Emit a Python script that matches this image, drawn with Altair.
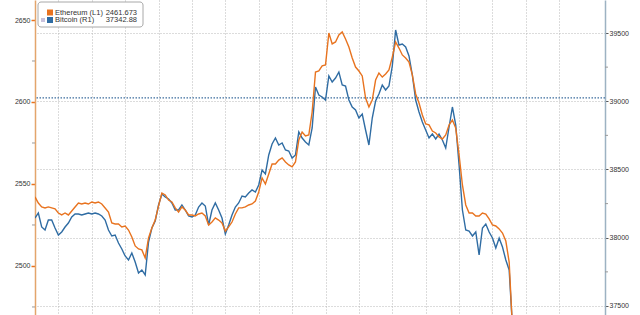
import altair as alt
import pandas as pd

# Ethereum (left axis) and Bitcoin (right axis), 6-minute samples
eth = [2542.1, 2538.4, 2536.0, 2535.4, 2536.0, 2535.4, 2534.8, 2532.3, 2531.1, 2532.3,
       2531.1, 2533.5, 2536.0, 2538.4, 2537.8, 2538.4, 2537.8, 2539.0, 2538.4, 2539.0,
       2537.8, 2535.4, 2532.9, 2526.2, 2525.6, 2525.6, 2523.8, 2524.4, 2521.9, 2517.7,
       2512.2, 2510.4, 2509.8, 2504.9, 2517.1, 2523.2, 2528.0, 2536.6, 2544.5, 2543.3,
       2540.2, 2539.0, 2535.4, 2532.9, 2536.0, 2534.1, 2531.1, 2531.1, 2530.5, 2531.7,
       2532.3, 2530.5, 2525.0, 2526.8, 2529.3, 2528.0, 2526.2, 2521.3, 2523.8, 2526.8,
       2531.7, 2535.4, 2535.4, 2536.0, 2537.2, 2537.8, 2539.6, 2545.1, 2553.7, 2550.0,
       2556.1, 2562.2, 2562.2, 2564.6, 2565.9, 2563.4, 2561.6, 2560.4, 2563.4, 2576.8,
       2581.7, 2579.3, 2579.9, 2593.9, 2618.3, 2618.9, 2622.0, 2622.6, 2642.1, 2635.4,
       2636.6, 2640.9, 2642.7, 2638.4, 2633.5, 2626.8, 2621.3, 2618.9, 2615.9, 2602.4,
       2597.0, 2601.2, 2613.4, 2617.7, 2615.2, 2617.1, 2619.5, 2627.4, 2636.6, 2632.9,
       2628.7, 2626.8, 2624.4, 2616.5, 2604.9, 2599.4, 2592.1, 2586.6, 2586.0, 2582.3,
       2581.1, 2578.7, 2577.4, 2579.9, 2586.0, 2589.0, 2584.1, 2567.7, 2549.4, 2537.2,
       2532.3, 2532.3, 2530.5, 2530.5, 2532.3, 2531.7, 2528.7, 2525.0, 2524.4, 2522.6,
       2520.1, 2515.2, 2502.4, 2461.673]

btc = [38144.7, 38181.4, 38078.8, 38056.8, 38130.1, 38130.1, 38071.5, 38020.2, 38042.2, 38078.8,
       38108.1, 38152.1, 38174.0, 38174.0, 38166.7, 38174.0, 38181.4, 38174.0, 38181.4, 38174.0,
       38159.4, 38130.1, 38056.8, 38012.9, 38020.2, 37961.6, 37917.6, 37866.3, 37837.0, 37888.3,
       37822.4, 37741.8, 37763.8, 37727.1, 37968.9, 38071.5, 38122.8, 38240.0, 38320.6, 38298.6,
       38283.9, 38254.6, 38203.3, 38203.3, 38240.0, 38203.3, 38159.4, 38152.1, 38166.7, 38225.3,
       38254.6, 38232.6, 38093.4, 38203.3, 38254.6, 38203.3, 38144.7, 38027.5, 38093.4, 38166.7,
       38225.3, 38254.6, 38305.9, 38298.6, 38327.9, 38349.9, 38335.2, 38386.5, 38496.4, 38467.1,
       38606.3, 38686.9, 38730.8, 38679.5, 38694.2, 38642.9, 38635.6, 38584.3, 38606.3, 38774.8,
       38730.8, 38701.5, 38679.5, 38804.1, 39104.4, 39045.8, 39031.2, 39009.2, 39185.0, 39141.1,
       39170.4, 39214.3, 39119.1, 39111.8, 39009.2, 38957.9, 38935.9, 38877.3, 38906.6, 38789.4,
       38679.5, 38877.3, 39001.9, 39053.2, 39119.1, 39082.5, 39111.8, 39258.3, 39522.0, 39412.1,
       39419.5, 39397.5, 39331.5, 39192.3, 39009.2, 38921.3, 38848.0, 38789.4, 38730.8, 38760.1,
       38723.5, 38760.1, 38716.2, 38657.6, 38811.4, 38957.9, 38826.0, 38533.0, 38203.3, 38056.8,
       38049.5, 38012.9, 38042.2, 37873.7, 38071.5, 38100.8, 38042.2, 37998.2, 37925.0, 37998.2,
       37932.3, 37837.0, 37763.8, 37342.88]

hour_start = -0.7
hour_step = 0.1
hours = [round(hour_start + hour_step * i, 2) for i in range(len(eth))]

left_ticks = [2500, 2550, 2600, 2650]
left_minor = [2475, 2525, 2575, 2625]
right_ticks = [37500, 38000, 38500, 39000, 39500]
right_minor = [37750, 38250, 38750, 39250]
vgrid = list(range(0, 16))
ref_level = [39025]
left_domain = [2470.1, 2662.2]
right_domain = [37434.0, 39741.8]
x_domain = [-0.7, 16.37]

ORANGE = "#E8731F"
BLUE = "#2F6CA3"
GRID = "#B8B8B8"
FONT = "Liberation Sans"

df = pd.DataFrame({"hour": hours, "eth": eth, "btc": btc})

x_enc = alt.X(
    "hour:Q",
    scale=alt.Scale(domain=x_domain, nice=False, zero=False),
    axis=alt.Axis(values=vgrid, grid=True, gridDash=[1, 2], gridColor=GRID,
                  labels=False, ticks=False, domain=False, title=None),
)

y_right = alt.Y(
    "btc:Q",
    scale=alt.Scale(domain=right_domain, nice=False, zero=False),
    axis=alt.Axis(orient="right", values=right_ticks, grid=True, gridDash=[1, 2],
                  gridColor=GRID, domainColor="#9DB2C2", domainWidth=1.5,
                  tickColor="#555555", tickSize=3, labelFontSize=7, labelFont=FONT,
                  labelColor="#333333", labelPadding=1, title=None, format="d"),
)

y_left = alt.Y(
    "eth:Q",
    scale=alt.Scale(domain=left_domain, nice=False, zero=False),
    axis=alt.Axis(orient="left", values=left_ticks, grid=False,
                  domainColor="#E3A56B", domainWidth=1.5,
                  tickColor=ORANGE, tickSize=4, tickWidth=1.5, labelFontSize=7,
                  labelFont=FONT, labelColor="#333333", labelPadding=1,
                  title=None, format="d"),
)

blue_line = alt.Chart(df).mark_line(color=BLUE, strokeWidth=1.4, clip=True).encode(
    x=x_enc, y=y_right)
ref_rule = alt.Chart(pd.DataFrame({"btc": ref_level})).mark_rule(
    color="#3D6E9E", strokeDash=[1.5, 1.5], strokeWidth=1.2).encode(y=y_right)
right_minor_ticks = alt.Chart(pd.DataFrame({"btc": right_minor})).mark_rule(
    color="#9A9A9A").encode(x=alt.value(570), x2=alt.value(573), y=y_right)
right_group = alt.layer(ref_rule, blue_line, right_minor_ticks)

orange_line = alt.Chart(df).mark_line(color=ORANGE, strokeWidth=1.4, clip=True).encode(
    x=x_enc, y=y_left)
left_minor_ticks = alt.Chart(pd.DataFrame({"eth": left_minor})).mark_rule(
    color="#9A9A9A").encode(x=alt.value(-3), x2=alt.value(0), y=y_left)
left_group = alt.layer(orange_line, left_minor_ticks)

# Legend box
one = pd.DataFrame({"a": [0]})
box = alt.Chart(one).mark_rect(fill="white", stroke="#A8A8A8", strokeWidth=1,
                                cornerRadius=3).encode(
    x=alt.value(3), x2=alt.value(108), y=alt.value(2), y2=alt.value(27))
sq_eth = alt.Chart(one).mark_rect(fill=ORANGE).encode(
    x=alt.value(12), x2=alt.value(18), y=alt.value(9.5), y2=alt.value(15.5))
sq_btc = alt.Chart(one).mark_rect(fill=BLUE).encode(
    x=alt.value(12), x2=alt.value(18), y=alt.value(17), y2=alt.value(23))
sq_hl = alt.Chart(one).mark_rect(fill="#C9C2DD").encode(
    x=alt.value(6), x2=alt.value(10), y=alt.value(18), y2=alt.value(22))

def txt(s, xpos, ypos, align):
    return alt.Chart(one).mark_text(
        text=s, align=align, baseline="middle", font=FONT, fontSize=7.5,
        color="#333333").encode(x=alt.value(xpos), y=alt.value(ypos))

legend = alt.layer(
    box, sq_eth, sq_btc, sq_hl,
    txt("Ethereum (L1)", 20, 12.5, "left"),
    txt(f"{eth[-1]:.3f}", 102, 12.5, "right"),
    txt("Bitcoin (R1)", 20, 20, "left"),
    txt(f"{btc[-1]:.2f}", 102, 20, "right"),
)

chart = alt.layer(right_group, left_group, legend).resolve_scale(
    y="independent"
).properties(
    width=570, height=315, autosize="none",
    padding={"left": 35, "right": 35, "top": 0, "bottom": 0},
    background="white",
).configure_view(stroke=None)

chart.save("out.html", embed_options={"renderer": "svg", "actions": False})
